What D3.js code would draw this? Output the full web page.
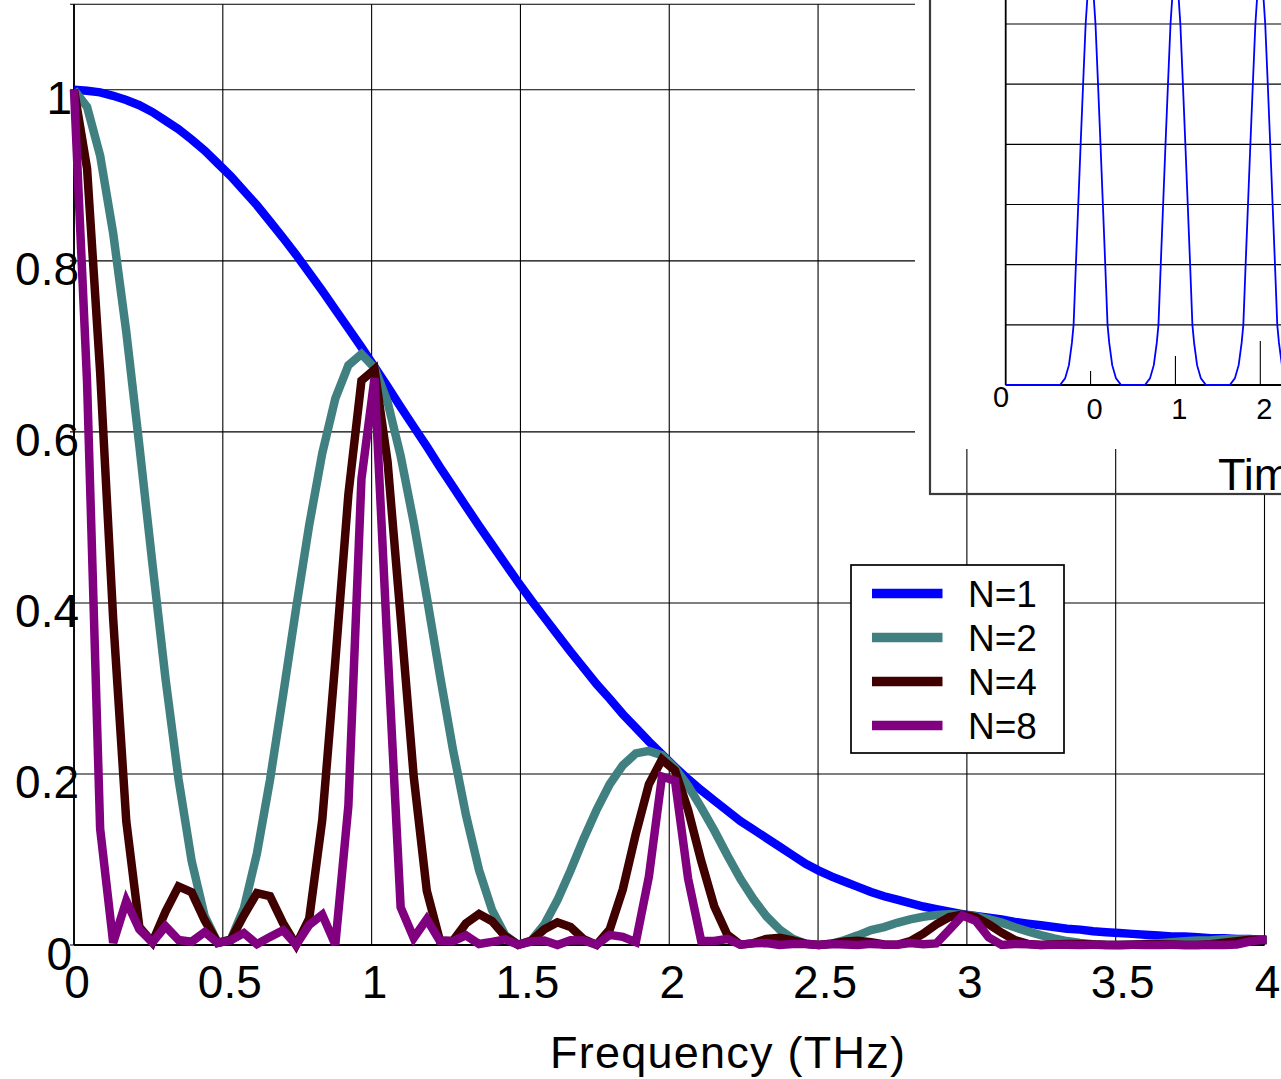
<!DOCTYPE html>
<html><head><meta charset="utf-8">
<script src="https://cdn.jsdelivr.net/npm/d3@7"></script>
<style>body{margin:0;background:#fff} svg text{font-family:"Liberation Sans",Arial,Helvetica,sans-serif;fill:#000}</style>
</head><body><svg id="c" width="1281" height="1079"></svg>
<script>
// ---------------- data ----------------
const freq = [0,0.0439,0.0878,0.1317,0.1756,0.2195,0.2634,0.3073,0.3512,0.3951,
0.439,0.4829,0.5268,0.5707,0.6146,0.6585,0.7024,0.7463,0.7902,0.8341,
0.878,0.9219,0.9658,1.0097,1.0536,1.0975,1.1414,1.1853,1.2292,1.2731,
1.317,1.3609,1.4048,1.4487,1.4926,1.5365,1.5804,1.6243,1.6682,1.7121,
1.756,1.7999,1.8438,1.8877,1.9316,1.9755,2.0194,2.0633,2.1072,2.1511,
2.195,2.2389,2.2828,2.3267,2.3706,2.4145,2.4584,2.5023,2.5462,2.5901,
2.634,2.6779,2.7218,2.7657,2.8096,2.8535,2.8974,2.9413,2.9852,3.0291,
3.073,3.1169,3.1608,3.2047,3.2486,3.2925,3.3364,3.3803,3.4242,3.4681,
3.512,3.5559,3.5998,3.6437,3.6876,3.7315,3.7754,3.8193,3.8632,3.9071,
3.951,3.9949,4.0388];

const n1 = [1.000,0.999,0.997,0.993,0.988,0.982,0.974,0.964,0.954,0.942,
0.929,0.914,0.899,0.882,0.865,0.846,0.827,0.807,0.786,0.765,
0.743,0.721,0.699,0.676,0.653,0.629,0.606,0.583,0.559,0.536,
0.513,0.490,0.468,0.446,0.424,0.403,0.383,0.363,0.343,0.324,
0.305,0.288,0.270,0.254,0.238,0.223,0.208,0.194,0.181,0.169,
0.157,0.145,0.135,0.125,0.115,0.105,0.095,0.087,0.080,0.074,
0.068,0.062,0.057,0.053,0.049,0.045,0.042,0.039,0.036,0.034,
0.032,0.030,0.027,0.025,0.023,0.021,0.019,0.018,0.016,0.015,
0.014,0.013,0.012,0.011,0.010,0.010,0.009,0.008,0.008,0.007,
0.007,0.006,0.006];

const n2 = [1.000,0.980,0.923,0.832,0.717,0.584,0.446,0.312,0.194,0.0985,
0.0337,0.0026,0.0064,0.0428,0.107,0.193,0.292,0.394,0.491,0.575,
0.639,0.678,0.691,0.675,0.635,0.572,0.494,0.407,0.316,0.229,
0.152,0.0876,0.0407,0.0115,0.0002,0.0053,0.0239,0.0525,0.0869,0.124,
0.158,0.188,0.210,0.224,0.227,0.222,0.207,0.186,0.161,0.134,
0.105,0.0775,0.0537,0.0335,0.018,0.0074,0.0016,0.0000,0.0017,0.0058,
0.0113,0.0174,0.021,0.026,0.030,0.033,0.035,0.036,0.0355,0.0337,
0.0303,0.0261,0.0207,0.016,0.0116,0.0077,0.0046,0.0024,0.0009,0.0002,
0.0000,0.0004,0.0011,0.0021,0.0031,0.0044,0.0052,0.0057,0.0066,0.0064,
0.0068,0.006,0.0059];

const n4 = [1.000,0.908,0.670,0.381,0.145,0.021,0.0032,0.0388,0.0685,0.0617,
0.029,0.0026,0.0062,0.0348,0.0607,0.0572,0.0255,0.0002,0.0307,0.146,
0.332,0.527,0.660,0.673,0.565,0.383,0.197,0.0635,0.0054,0.0048,
0.0253,0.0362,0.0278,0.0103,0.0002,0.005,0.0183,0.0265,0.0211,0.0069,
0.0002,0.018,0.0649,0.130,0.188,0.217,0.204,0.158,0.0985,0.0453,
0.0121,0.0004,0.0022,0.0072,0.0085,0.0054,0.0015,0.0000,0.0015,0.0041,
0.005,0.0034,0.0007,0.0003,0.0045,0.0132,0.0241,0.0328,0.0356,0.0326,
0.0244,0.0144,0.0058,0.0013,0.0000,0.0005,0.0012,0.0013,0.0007,0.0001,
0.0000,0.0004,0.0008,0.0008,0.0005,0.0001,0.0001,0.001,0.0028,0.0045,
0.0062,0.006,0.0056];

const n8 = [1.000,0.658,0.136,0.0027,0.0515,0.0183,0.0031,0.0219,0.0059,0.0038,
0.0151,0.0025,0.0055,0.0139,0.001,0.0095,0.0173,0.0002,0.0235,0.0355,
0.0005,0.163,0.545,0.663,0.346,0.044,0.0082,0.030,0.005,0.0044,
0.0112,0.0011,0.0037,0.0066,0.0002,0.004,0.0052,0.0000,0.0056,0.0054,
0.0002,0.0118,0.0095,0.0033,0.080,0.197,0.192,0.0776,0.0049,0.0047,
0.0071,0.0004,0.0019,0.0023,0.0000,0.0012,0.0011,0.0000,0.0011,0.0007,
0.0001,0.0013,0.0006,0.0003,0.0024,0.0009,0.0019,0.018,0.0344,0.0284,
0.009,0.0001,0.0011,0.0009,0.0000,0.0004,0.0003,0.0000,0.0002,0.0001,
0.0000,0.0002,0.0001,0.0000,0.0002,0.0001,0.0001,0.0004,0.0001,0.0007,
0.0041,0.006,0.0043];

const seriesNames = ["N=1","N=2","N=4","N=8"];
const seriesColors = ["#0000ff","#408080","#400000","#800080"];
const seriesValues = [n1,n2,n4,n8];

const xTicks = [0,0.5,1,1.5,2,2.5,3,3.5,4];
const xTickLabels = ["0","0.5","1","1.5","2","2.5","3","3.5","4"];
const yTicks = [0,0.2,0.4,0.6,0.8,1];
const yTickLabels = ["0","0.2","0.4","0.6","0.8","1"];
const xTitle = "Frequency (THz)";

// inset (time domain pulse train)
const pulseCenters = [0,1,2,3];
const pulseOffsets = [-0.36,-0.30,-0.255,-0.22,-0.20,-0.173,-0.145,-0.117,-0.088,-0.058,-0.03,0,
                      0.03,0.058,0.088,0.117,0.145,0.173,0.20,0.22,0.255,0.30,0.36];
const pulseAmps    = [0,0.011,0.033,0.07,0.10,0.20,0.30,0.40,0.50,0.60,0.66,0.69,
                      0.66,0.60,0.50,0.40,0.30,0.20,0.10,0.07,0.033,0.011,0];
const insetXTicks = [0,1,2];
const insetXTickLabels = ["0","1","2"];
const insetYGrid = [0.1,0.2,0.3,0.4,0.5,0.6];
const insetTitle = "Time (ps)";

// ---------------- drawing ----------------
const svg = d3.select("#c");
const x = d3.scaleLinear().domain([0,4]).range([74,1264.5]);
const y = d3.scaleLinear().domain([0,1.1]).range([945,4.3]);

const grid = svg.append("g");
xTicks.forEach(t=>{
  grid.append("line").attr("x1",x(t)).attr("x2",x(t)).attr("y1",y(0)).attr("y2",y(1.1))
    .attr("stroke","#000").attr("stroke-width",1.1);
});
yTicks.concat([1.1]).forEach(t=>{
  grid.append("line").attr("x1",x(0)-4).attr("x2",x(4)).attr("y1",y(t)).attr("y2",y(t))
    .attr("stroke","#000").attr("stroke-width",1.1);
});
// axes
svg.append("line").attr("x1",x(0)).attr("x2",x(0)).attr("y1",y(0)).attr("y2",y(1.1)).attr("stroke","#000").attr("stroke-width",1.8);
svg.append("line").attr("x1",x(0)).attr("x2",x(4)).attr("y1",y(0)).attr("y2",y(0)).attr("stroke","#000").attr("stroke-width",1.8);

svg.append("clipPath").attr("id","plotclip").append("rect")
  .attr("x",40).attr("y",-20).attr("width",x(4)+2-40).attr("height",1040);

const line = d3.line().x((d,i)=>x(freq[i])).y(d=>y(d));
const lg = svg.append("g").attr("clip-path","url(#plotclip)");
seriesValues.forEach((vals,si)=>{
  lg.append("path").attr("d",line(vals)).attr("fill","none")
    .attr("stroke",seriesColors[si]).attr("stroke-width",8.5).attr("stroke-linejoin","miter");
});

// tick labels
xTicks.forEach((t,i)=>{
  const lab = xTickLabels[i];
  const off = lab.length>1 ? 7 : 3;
  svg.append("text").attr("x",x(t)+off).attr("y",998).attr("text-anchor","middle")
    .attr("font-size",46).text(lab);
});
yTicks.forEach((t,i)=>{
  const lab = yTickLabels[i];
  const xx = lab.length>1 ? 79 : 72;
  svg.append("text").attr("x",xx).attr("y",y(t)+24.5).attr("text-anchor","end")
    .attr("font-size",46).text(lab);
});
svg.append("text").attr("x",550).attr("y",1068).attr("font-size",45)
  .attr("textLength",355).attr("lengthAdjust","spacing").text(xTitle);

// legend
const leg = svg.append("g");
leg.append("rect").attr("x",851).attr("y",565).attr("width",213).attr("height",188)
  .attr("fill","#fff").attr("stroke","#000").attr("stroke-width",1.7);
seriesNames.forEach((nm,i)=>{
  const yy = 593.5 + i*44;
  leg.append("line").attr("x1",872).attr("x2",942.5).attr("y1",yy).attr("y2",yy)
    .attr("stroke",seriesColors[i]).attr("stroke-width",9.5);
  leg.append("text").attr("x",968).attr("y",yy+13.3).attr("font-size",37).text(nm);
});

// ---------------- inset ----------------
const ins = svg.append("g");
ins.append("rect").attr("x",915).attr("y",0).attr("width",366).attr("height",449).attr("fill","#fff");
ins.append("rect").attr("x",1205).attr("y",449).attr("width",76).attr("height",44).attr("fill","#fff");
ins.append("rect").attr("x",930).attr("y",-10).attr("width",400).attr("height",504)
  .attr("fill","none").attr("stroke","#3a3a3a").attr("stroke-width",2.2);

const ix = d3.scaleLinear().domain([-1,2]).range([1005.7,1260.3]);
const iy = d3.scaleLinear().domain([0,0.6]).range([385,24]);

insetYGrid.forEach(v=>{
  ins.append("line").attr("x1",ix(-1)).attr("x2",1290).attr("y1",iy(v)).attr("y2",iy(v))
    .attr("stroke","#000").attr("stroke-width",1.1);
});
insetXTicks.forEach((t,i)=>{
  ins.append("line").attr("x1",ix(t)).attr("x2",ix(t)).attr("y1",iy(0)).attr("y2",iy(0)-(14+15*i))
    .attr("stroke","#000").attr("stroke-width",1.1);
  ins.append("text").attr("x",ix(t)+4).attr("y",419).attr("text-anchor","middle")
    .attr("font-size",29).text(insetXTickLabels[i]);
});
ins.append("line").attr("x1",ix(-1)).attr("x2",ix(-1)).attr("y1",-5).attr("y2",iy(0)).attr("stroke","#000").attr("stroke-width",1.8);
ins.append("line").attr("x1",ix(-1)).attr("x2",1290).attr("y1",iy(0)).attr("y2",iy(0)).attr("stroke","#000").attr("stroke-width",1.8);
ins.append("text").attr("x",1001).attr("y",407).attr("text-anchor","middle").attr("font-size",29).text("0");

const pulsePts = [[-1,0]];
pulseCenters.forEach(c=>{ pulseOffsets.forEach((o,i)=>pulsePts.push([c+o,pulseAmps[i]])); });
const pline = d3.line().x(d=>ix(d[0])).y(d=>iy(d[1]));
ins.append("path").attr("d",pline(pulsePts)).attr("fill","none").attr("stroke","#0000ff").attr("stroke-width",1.8);

ins.append("text").attr("x",1218).attr("y",490).attr("font-size",45).text(insetTitle);
</script></body></html>
